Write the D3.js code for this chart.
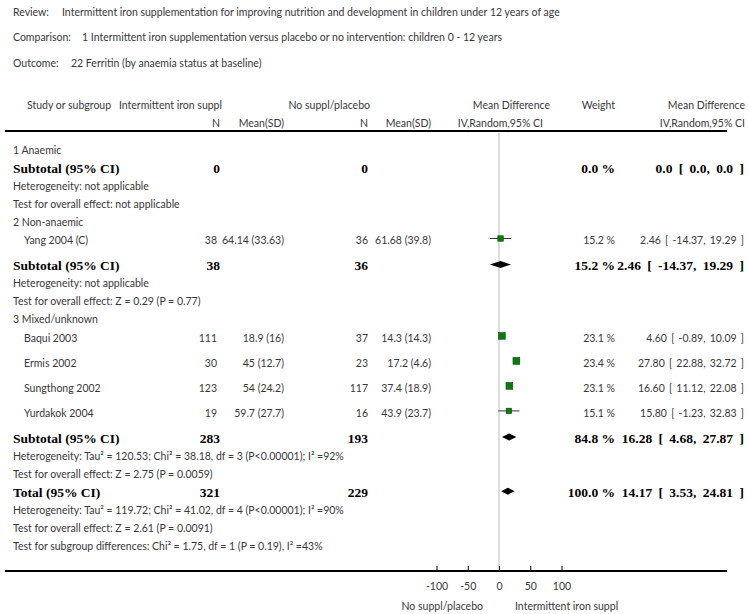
<html>
<head>
<script src="https://d3js.org/d3.v7.min.js"></script>
<style>
  body { margin: 0; background: #fff; }
  text { font-family: Lato, "Open Sans", sans-serif; font-size: 10.5px; fill: #383838; }
  text.b { font-family: "Liberation Serif", serif; font-weight: bold; font-size: 13.5px; fill: #000; }
  text.ci { word-spacing: 1.5px; }
  text.b.ci { word-spacing: 3px; }
</style>
</head>
<body>
<svg id="plot" width="749" height="614"></svg>
<script>
var titleKeys = ["Review:", "Comparison:", "Outcome:"];
var titleValues = [
  "Intermittent iron supplementation for improving nutrition and development in children under 12 years of age",
  "1 Intermittent iron supplementation versus placebo or no intervention: children 0 - 12 years",
  "22 Ferritin (by anaemia status at baseline)"
];

var groups = ["1 Anaemic", "2 Non-anaemic", "3 Mixed/unknown"];
var groupIronN = [0, 38, 283];
var groupCtrlN = [0, 36, 193];
var groupWeight = [0.0, 15.2, 84.8];
var groupMD = [0.0, 2.46, 16.28];
var groupLo = [0.0, -14.37, 4.68];
var groupHi = [0.0, 19.29, 27.87];
var groupHet = [
  "Heterogeneity: not applicable",
  "Heterogeneity: not applicable",
  "Heterogeneity: Tau² = 120.53; Chi² = 38.18, df = 3 (P<0.00001); I² =92%"
];
var groupTest = [
  "Test for overall effect: not applicable",
  "Test for overall effect: Z = 0.29 (P = 0.77)",
  "Test for overall effect: Z = 2.75 (P = 0.0059)"
];

var studies = ["Yang 2004 (C)", "Baqui 2003", "Ermis 2002", "Sungthong 2002", "Yurdakok 2004"];
var studyGroup = [1, 2, 2, 2, 2];
var ironN = [38, 111, 30, 123, 19];
var ironMeanSD = ["64.14 (33.63)", "18.9 (16)", "45 (12.7)", "54 (24.2)", "59.7 (27.7)"];
var ctrlN = [36, 37, 23, 117, 16];
var ctrlMeanSD = ["61.68 (39.8)", "14.3 (14.3)", "17.2 (4.6)", "37.4 (18.9)", "43.9 (23.7)"];
var studyWeight = [15.2, 23.1, 23.4, 23.1, 15.1];
var studyMD = [2.46, 4.60, 27.80, 16.60, 15.80];
var studyLo = [-14.37, -0.89, 22.88, 11.12, -1.23];
var studyHi = [19.29, 10.09, 32.72, 22.08, 32.83];

var totalIronN = 321, totalCtrlN = 229, totalWeight = 100.0;
var totalMD = 14.17, totalLo = 3.53, totalHi = 24.81;
var totalNotes = [
  "Heterogeneity: Tau² = 119.72; Chi² = 41.02, df = 4 (P<0.00001); I² =90%",
  "Test for overall effect: Z = 2.61 (P = 0.0091)",
  "Test for subgroup differences: Chi² = 1.75, df = 1 (P = 0.19), I² =43%"
];

var axisTicks = [-100, -50, 0, 50, 100];
var axisLabels = ["No suppl/placebo", "Intermittent iron suppl"];

var svg = d3.select("#plot");

// title lines
titleKeys.forEach(function(k, i) {
  var y = 12 + i * 25.5;
  svg.append("text").attr("x", 13).attr("y", y).attr("dy", "0.35em").text(k);
  svg.append("text").attr("x", [62, 82, 71][i]).attr("y", y).attr("dy", "0.35em").text(titleValues[i]);
});

// column anchors
var col = { name: 13, study: 24, n1: 217, m1: 284, n2: 368, m2: 431, w: 615, ci: 744 };

// headers
function hdr(x, y, t, anchor) {
  svg.append("text").attr("x", x).attr("y", y).attr("dy", "0.35em")
    .attr("text-anchor", anchor || "end").text(t);
}
hdr(27, 105, "Study or subgroup", "start");
hdr(222, 105, "Intermittent iron suppl");
hdr(370, 105, "No suppl/placebo");
hdr(550, 105, "Mean Difference");
hdr(615, 105, "Weight");
hdr(745, 105, "Mean Difference");
hdr(col.n1 + 3, 123, "N");
hdr(col.m1, 123, "Mean(SD)");
hdr(col.n2, 123, "N");
hdr(col.m2, 123, "Mean(SD)");
hdr(543, 123, "IV,Random,95% CI");
hdr(745, 123, "IV,Random,95% CI");

svg.append("line").attr("x1", 5).attr("x2", 727).attr("y1", 131).attr("y2", 131)
  .attr("stroke", "#000").attr("stroke-width", 2);

// build rows
var rows = [];
groups.forEach(function(g, gi) {
  rows.push({ kind: "group", label: g });
  studies.forEach(function(s, si) {
    if (studyGroup[si] === gi) rows.push({ kind: "study", i: si });
  });
  rows.push({ kind: "subtotal", i: gi });
  rows.push({ kind: "note", label: groupHet[gi] });
  rows.push({ kind: "note", label: groupTest[gi] });
});
rows.push({ kind: "total" });
totalNotes.forEach(function(t) { rows.push({ kind: "note", label: t }); });

var yPos = 150;
rows.forEach(function(r, i) {
  if (i > 0) yPos += rows[i - 1].kind === "study" ? 25 : 18.1;
  r.y = yPos;
});

var x = d3.scaleLinear().domain([-100, 100]).range([436.5, 561.5]);
var sq = d3.scaleSqrt().domain([0, 25]).range([0, 7]);

// zero line
svg.append("line").attr("x1", x(0)).attr("x2", x(0)).attr("y1", 133).attr("y2", 571)
  .attr("stroke", "#bbb").attr("stroke-width", 1);

function ci(md, lo, hi, d) {
  return md.toFixed(d) + " [ " + lo.toFixed(d) + ", " + hi.toFixed(d) + " ]";
}
function txt(xx, y, t, anchor, cls) {
  svg.append("text").attr("x", xx).attr("y", y).attr("dy", "0.35em")
    .attr("class", cls || null)
    .attr("text-anchor", anchor || "start").text(t);
}
function diamond(md, lo, hi, y) {
  var h = 3.5;
  svg.append("path")
    .attr("d", "M" + x(lo) + "," + y + "L" + x(md) + "," + (y - h) + "L" + x(hi) + "," + y + "L" + x(md) + "," + (y + h) + "Z")
    .attr("fill", "#000");
}

rows.forEach(function(r) {
  if (r.kind === "group" || r.kind === "note") {
    txt(col.name, r.y, r.label);
  } else if (r.kind === "study") {
    var i = r.i;
    txt(col.study, r.y, studies[i]);
    txt(col.n1, r.y, ironN[i], "end");
    txt(col.m1, r.y, ironMeanSD[i], "end");
    txt(col.n2, r.y, ctrlN[i], "end");
    txt(col.m2, r.y, ctrlMeanSD[i], "end");
    txt(col.w, r.y, studyWeight[i].toFixed(1) + " %", "end");
    txt(col.ci, r.y, ci(studyMD[i], studyLo[i], studyHi[i], 2), "end", "ci");
    svg.append("line").attr("x1", x(studyLo[i])).attr("x2", x(studyHi[i]))
      .attr("y1", r.y - 2).attr("y2", r.y - 2).attr("stroke", "#333").attr("stroke-width", 1);
    var s = sq(studyWeight[i]);
    svg.append("rect").attr("x", x(studyMD[i]) - s / 2).attr("y", r.y - 2 - s / 2)
      .attr("width", s).attr("height", s)
      .attr("fill", "#0b7a0b").attr("stroke", "#034d03").attr("stroke-width", 0.6);
  } else if (r.kind === "subtotal") {
    var g = r.i, d = groupIronN[g] ? 2 : 1;
    txt(col.name, r.y, "Subtotal (95% CI)", "start", "b");
    txt(col.n1 + 3, r.y, groupIronN[g], "end", "b");
    txt(col.n2, r.y, groupCtrlN[g], "end", "b");
    txt(col.w, r.y, groupWeight[g].toFixed(1) + " %", "end", "b");
    txt(col.ci, r.y, ci(groupMD[g], groupLo[g], groupHi[g], d), "end", "b ci");
    if (groupIronN[g]) diamond(groupMD[g], groupLo[g], groupHi[g], r.y - 1);
  } else if (r.kind === "total") {
    txt(col.name, r.y, "Total (95% CI)", "start", "b");
    txt(col.n1 + 3, r.y, totalIronN, "end", "b");
    txt(col.n2, r.y, totalCtrlN, "end", "b");
    txt(col.w, r.y, totalWeight.toFixed(1) + " %", "end", "b");
    txt(col.ci, r.y, ci(totalMD, totalLo, totalHi, 2), "end", "b ci");
    diamond(totalMD, totalLo, totalHi, r.y - 1);
  }
});

// bottom axis
svg.append("line").attr("x1", 5).attr("x2", 727).attr("y1", 571).attr("y2", 571)
  .attr("stroke", "#000").attr("stroke-width", 2);
var ax = svg.append("g").attr("transform", "translate(0,571)")
  .call(d3.axisBottom(x).tickValues(axisTicks)
    .tickFormat(function(d) { return String(d); })
    .tickSizeInner(-5).tickSizeOuter(0).tickPadding(12));
ax.select(".domain").remove();
ax.selectAll(".tick line").attr("stroke", "#000");
ax.selectAll(".tick text").attr("fill", "#383838")
  .style("font-family", "Lato, sans-serif").style("font-size", "10.5px");

txt(x(0) - 16, 606, axisLabels[0], "end");
txt(x(0) + 16, 606, axisLabels[1], "start");
</script>
</body>
</html>
